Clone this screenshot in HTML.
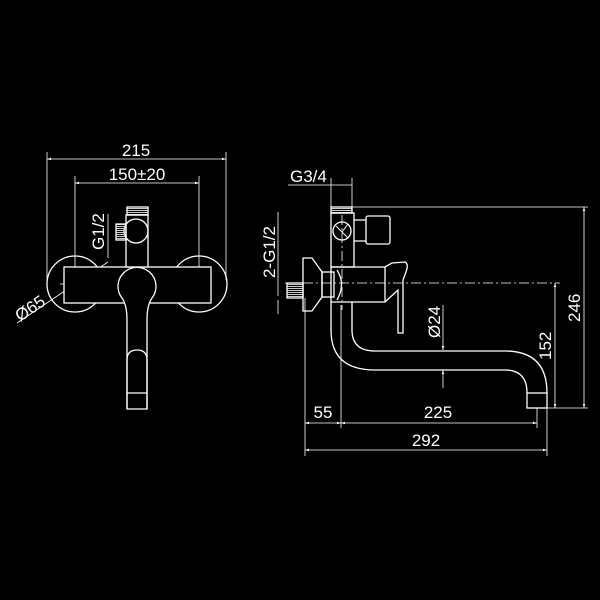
<!DOCTYPE html>
<html><head><meta charset="utf-8"><style>
html,body{margin:0;padding:0;background:#000;}
svg{display:block}
text{font-family:"Liberation Sans",sans-serif;fill:#fff;font-size:17px}
</style></head><body>
<svg width="600" height="600" viewBox="0 0 600 600" xmlns="http://www.w3.org/2000/svg">
<defs>
<marker id="a" viewBox="0 0 10 10" refX="10" refY="5" markerWidth="7" markerHeight="5" orient="auto-start-reverse"><path d="M0,2 L10,5 L0,8z" fill="#fff"/></marker>
<pattern id="h" width="2" height="2" patternUnits="userSpaceOnUse"><rect width="2" height="1" fill="#ccc"/></pattern>
</defs>
<g stroke="#fff" stroke-width="1.3" fill="none">
<g stroke-width="0.8">
<line x1="47" y1="159" x2="226" y2="159" marker-start="url(#a)" marker-end="url(#a)"/>
<line x1="75" y1="183" x2="199" y2="183" marker-start="url(#a)" marker-end="url(#a)"/>
<line x1="47" y1="152" x2="47" y2="280"/><line x1="226" y1="152" x2="226" y2="280"/>
<line x1="75" y1="176" x2="75" y2="300"/><line x1="199" y1="176" x2="199" y2="300"/>
<line x1="17" y1="323" x2="108" y2="262"/>
<line x1="108" y1="214" x2="108" y2="258"/>
<line x1="60" y1="284" x2="95" y2="284" stroke-dasharray="8 3 2 3"/>
<line x1="180" y1="284" x2="212" y2="284" stroke-dasharray="8 3 2 3"/>
</g>
<circle cx="75" cy="284" r="28"/><circle cx="199" cy="284" r="28"/>
<rect x="64" y="267" width="147" height="36" fill="#000"/>
<rect x="126" y="215" width="22" height="52" fill="#000"/>
<rect x="127" y="207" width="21" height="8" fill="url(#h)"/>
<circle cx="136" cy="231" r="12"/>
<rect x="116" y="224" width="10" height="16" fill="url(#h)"/>
<path d="M127,409 L127,320 Q127,305 122,298 A19,19 0 1 1 152,298 Q147,305 147,320 L147,409 Z" fill="#000"/>
<path d="M127,409 L127,360 Q127,350 137,350 Q147,350 147,360 L147,409"/>
<line x1="127" y1="393" x2="147" y2="393"/>
<g stroke-width="0.8">
<line x1="288" y1="185" x2="352" y2="185"/>
<line x1="331" y1="178" x2="331" y2="207"/><line x1="352" y1="178" x2="352" y2="207"/>
<line x1="352" y1="207" x2="588" y2="207"/>
<line x1="584" y1="207" x2="584" y2="408" marker-start="url(#a)" marker-end="url(#a)"/>
<line x1="547" y1="408" x2="588" y2="408"/>
<line x1="285" y1="283" x2="560" y2="283" stroke-dasharray="10 3 2 3"/>
<line x1="555" y1="283" x2="555" y2="408" marker-start="url(#a)" marker-end="url(#a)"/>
<line x1="342" y1="215" x2="342" y2="310" stroke-dasharray="10 3 2 3"/>
<line x1="278" y1="212" x2="278" y2="296"/>
<line x1="278" y1="300" x2="278" y2="314"/>
<line x1="443" y1="305" x2="443" y2="350" marker-end="url(#a)"/>
<line x1="443" y1="370" x2="443" y2="388" marker-start="url(#a)"/>
<line x1="305" y1="298" x2="305" y2="456"/>
<line x1="341" y1="305" x2="341" y2="428"/>
<line x1="537" y1="408" x2="537" y2="428"/>
<line x1="547" y1="408" x2="547" y2="456"/>
<line x1="305" y1="423" x2="341" y2="423" marker-start="url(#a)" marker-end="url(#a)"/>
<line x1="341" y1="423" x2="537" y2="423" marker-start="url(#a)" marker-end="url(#a)"/>
<line x1="305" y1="450" x2="547" y2="450" marker-start="url(#a)" marker-end="url(#a)"/>
</g>
<rect x="331" y="207" width="21" height="6" fill="url(#h)"/>
<rect x="331" y="213" width="23" height="54"/>
<circle cx="342" cy="231" r="9"/>
<path d="M336,226 L342,232 L348,224 M342,232 L348,238" stroke-width="1"/>
<path d="M354,220 L366,220 M354,241 L366,241"/>
<rect x="366" y="216" width="24" height="28" rx="2"/>
<path d="M331,267 L385,267 L392,263 L405,262 Q409,264 406,272 L403,280 L403,333 L398,333 L398,290 L385,302 L331,302 Z"/>
<line x1="385" y1="267" x2="385" y2="302"/>
<path d="M303,258 L312,258 L322,272 L322,297 L312,311 L303,311 Z"/>
<rect x="322" y="272" width="12" height="25"/>
<path d="M337,270 Q346,284 337,300"/>
<rect x="287" y="283" width="16" height="15" fill="url(#h)"/>
<path d="M331,302 L331,330 Q331,370 375,370 L505,370 Q527,370 527,393"/>
<path d="M352,302 L352,330 Q352,351 375,351 L505,351 Q547,351 547,393"/>
<rect x="527" y="393" width="20" height="15"/>
</g>
<text x="136" y="156" text-anchor="middle">215</text>
<text x="137" y="180" text-anchor="middle">150±20</text>
<text transform="translate(104,250) rotate(-90)">G1/2</text>
<text transform="translate(20,322) rotate(-34)">Ø65</text>
<text x="290" y="182">G3/4</text>
<text transform="translate(275,278) rotate(-90)">2-G1/2</text>
<text transform="translate(440,338) rotate(-90)">Ø24</text>
<text transform="translate(551,360) rotate(-90)">152</text>
<text transform="translate(580,322) rotate(-90)">246</text>
<text x="323" y="418" text-anchor="middle">55</text>
<text x="438" y="418" text-anchor="middle">225</text>
<text x="426" y="446" text-anchor="middle">292</text>
</svg>
</body></html>
